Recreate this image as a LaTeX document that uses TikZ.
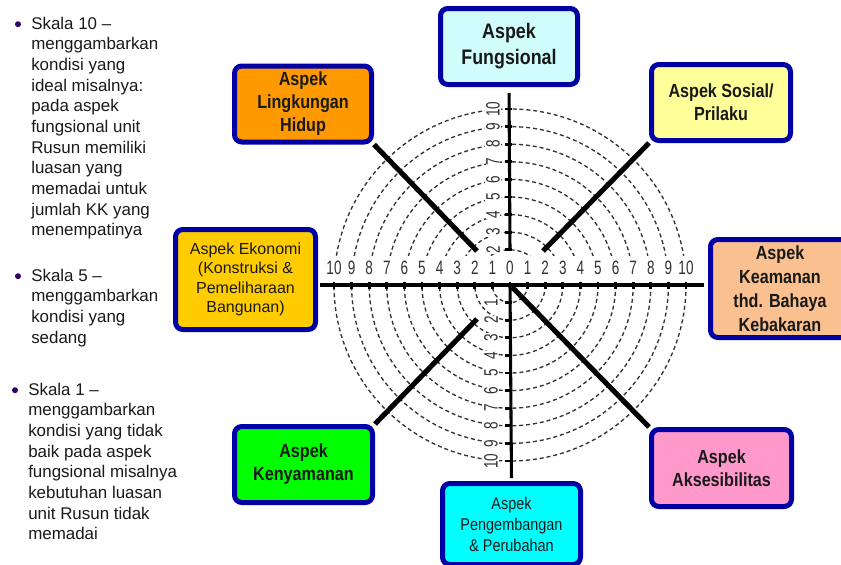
\documentclass[tikz,border=0pt]{standalone}
\usepackage{fontspec}
\setmainfont{Liberation Sans}
\newfontfamily\narrowfont[FakeStretch=0.85]{Liberation Sans}
\newfontfamily\digitfont[FakeStretch=0.7]{Liberation Sans}
\usetikzlibrary{calc}
\definecolor{rand}{RGB}{0,0,165}
\definecolor{ringgray}{RGB}{50,50,50}
\definecolor{bulletpurple}{RGB}{51,0,102}
\definecolor{fungfill}{RGB}{208,252,252}
\definecolor{lingfill}{RGB}{255,153,0}
\definecolor{sosfill}{RGB}{255,255,153}
\definecolor{keamfill}{RGB}{250,192,144}
\definecolor{ekofill}{RGB}{255,204,0}
\definecolor{kenyfill}{RGB}{0,255,0}
\definecolor{pengfill}{RGB}{0,255,255}
\definecolor{aksfill}{RGB}{255,153,204}

\begin{document}
\begin{tikzpicture}[x=0.75pt, y=-0.75pt,
    aspek/.style={draw=rand, line width=3.75pt, rounded corners=5.5pt, align=center,
        inner sep=0pt, text=black!90, font={\narrowfont\bfseries\fontsize{14.25pt}{17.25pt}\selectfont}},
    wh/.style 2 args={minimum width=#1*0.75pt, minimum height=#2*0.75pt},
    skala/.style={anchor=north west, align=left, inner sep=0pt, text=black!90,
        font={\fontsize{12.7pt}{15.5pt}\selectfont}},
    ring/.style={ringgray, line width=1pt, dash pattern=on 3pt off 2.2pt},
    num/.style={inner sep=0.6pt, text=ringgray, font={\digitfont\fontsize{14.5pt}{16pt}\selectfont}},
    axis/.style={line width=2.3pt, black},
    spoke/.style={line width=3.8pt, black},
    tick/.style={line width=2pt, black}]
    \useasboundingbox (0,0) rectangle (841,564);

    \coordinate (o) at (510,285);
    \coordinate (top2) at (510,250.5);

    \foreach \ya/\yb in {0/255,285/564}{
        \begin{scope}
            \clip (300,\ya) rectangle (720,\yb);
            \foreach \k in {1,...,10} \draw[ring] (o) circle[radius=\k*17.6];
        \end{scope}}

    \node[aspek, wh={137}{76}, fill=fungfill, font={\narrowfont\bfseries\fontsize{15.75pt}{19.5pt}\selectfont}]
        (fung) at (509,46.5) {Aspek\\Fungsional};
    \node[aspek, wh={137}{76}, fill=lingfill] (ling) at (303,104) {Aspek\\Lingkungan\\Hidup};
    \node[aspek, wh={139}{76}, fill=sosfill] (sos) at (721,102.5) {Aspek Sosial/\\Prilaku};
    \node[aspek, wh={139}{98}, fill=keamfill, font={\narrowfont\bfseries\fontsize{14.25pt}{18pt}\selectfont}]
        (keam) at (780,288.5) {Aspek\\Keamanan\\thd. Bahaya\\Kebakaran};
    \node[aspek, wh={140}{100}, fill=ekofill, font={\fontsize{12pt}{14.6pt}\selectfont}]
        (eko) at (245.5,279.5) {Aspek Ekonomi\\(Konstruksi \&\\Pemeliharaan\\Bangunan)};
    \node[aspek, wh={138}{76}, fill=kenyfill] (keny) at (303.5,464.5) {Aspek\\Kenyamanan};
    \node[aspek, wh={138}{81}, fill=pengfill, font={\narrowfont\fontsize{12.75pt}{15.75pt}\selectfont}]
        (peng) at (511.5,524) {Aspek\\Pengembangan\\\& Perubahan};
    \node[aspek, wh={140}{77}, fill=aksfill] (akses) at (721.5,468) {Aspek\\Aksesibilitas};

    \foreach \k in {-10,...,10}{
        \pgfmathtruncatemacro\n{abs(\k)}
        \node[num] at ($(o)+(\k*17.6,-17)$) {\n};}
    \foreach \k in {2,...,10}
        \node[num, rotate=90, fill=white] at ($(o)+(-17,-\k*17.6)$) {\k};
    \foreach \k in {1,...,10}
        \node[num, rotate=90, fill=white] at ($(o)+(-19,\k*17.6)$) {\k};

    \draw[axis] (eko.east |- o) -- (keam.west |- o) [shorten <=1.5pt, shorten >=3pt];
    \draw[axis, shorten <=4.5pt] (fung.south) -- (top2);
    \draw[axis, shorten >=2.25pt] (o) -- (peng.north);
    \foreach \k in {-10,...,10}
        \draw[tick] ($(o)+(\k*17.6,-3.5)$) -- ++(0,7);
    \foreach \k in {-10,...,-2,1,2,...,10}
        \draw[tick] ($(o)+(-5.5,\k*17.6)$) -- ++(7,0);

    \coordinate (nw) at (477,251);
    \coordinate (ne) at (543,251);
    \coordinate (sw) at (477,319);
    \coordinate (se) at (512,287);
    \draw[spoke] (ling.south east) -- (nw);
    \draw[spoke] (sos.south west) -- (ne);
    \draw[spoke] (keny.north east) -- (sw);
    \draw[spoke] (akses.north west) -- (se);

    \node[skala] (skala10) at (31,16.7) {Skala 10 --\\menggambarkan\\kondisi yang\\ideal misalnya:\\pada aspek\\fungsional unit\\Rusun memiliki\\luasan yang\\memadai untuk\\jumlah KK yang\\menempatinya};
    \node[skala] (skala5) at (31,268.7) {Skala 5 --\\menggambarkan\\kondisi yang\\sedang};
    \node[skala] (skala1) at (28,382.7) {Skala 1 --\\menggambarkan\\kondisi yang tidak\\baik pada aspek\\fungsional misalnya\\kebutuhan luasan\\unit Rusun tidak\\memadai};
    \foreach \s in {skala10,skala5,skala1}
        \fill[bulletpurple] ($(\s.north west)+(-13,7.5)$) circle[radius=3];
\end{tikzpicture}
\end{document}
